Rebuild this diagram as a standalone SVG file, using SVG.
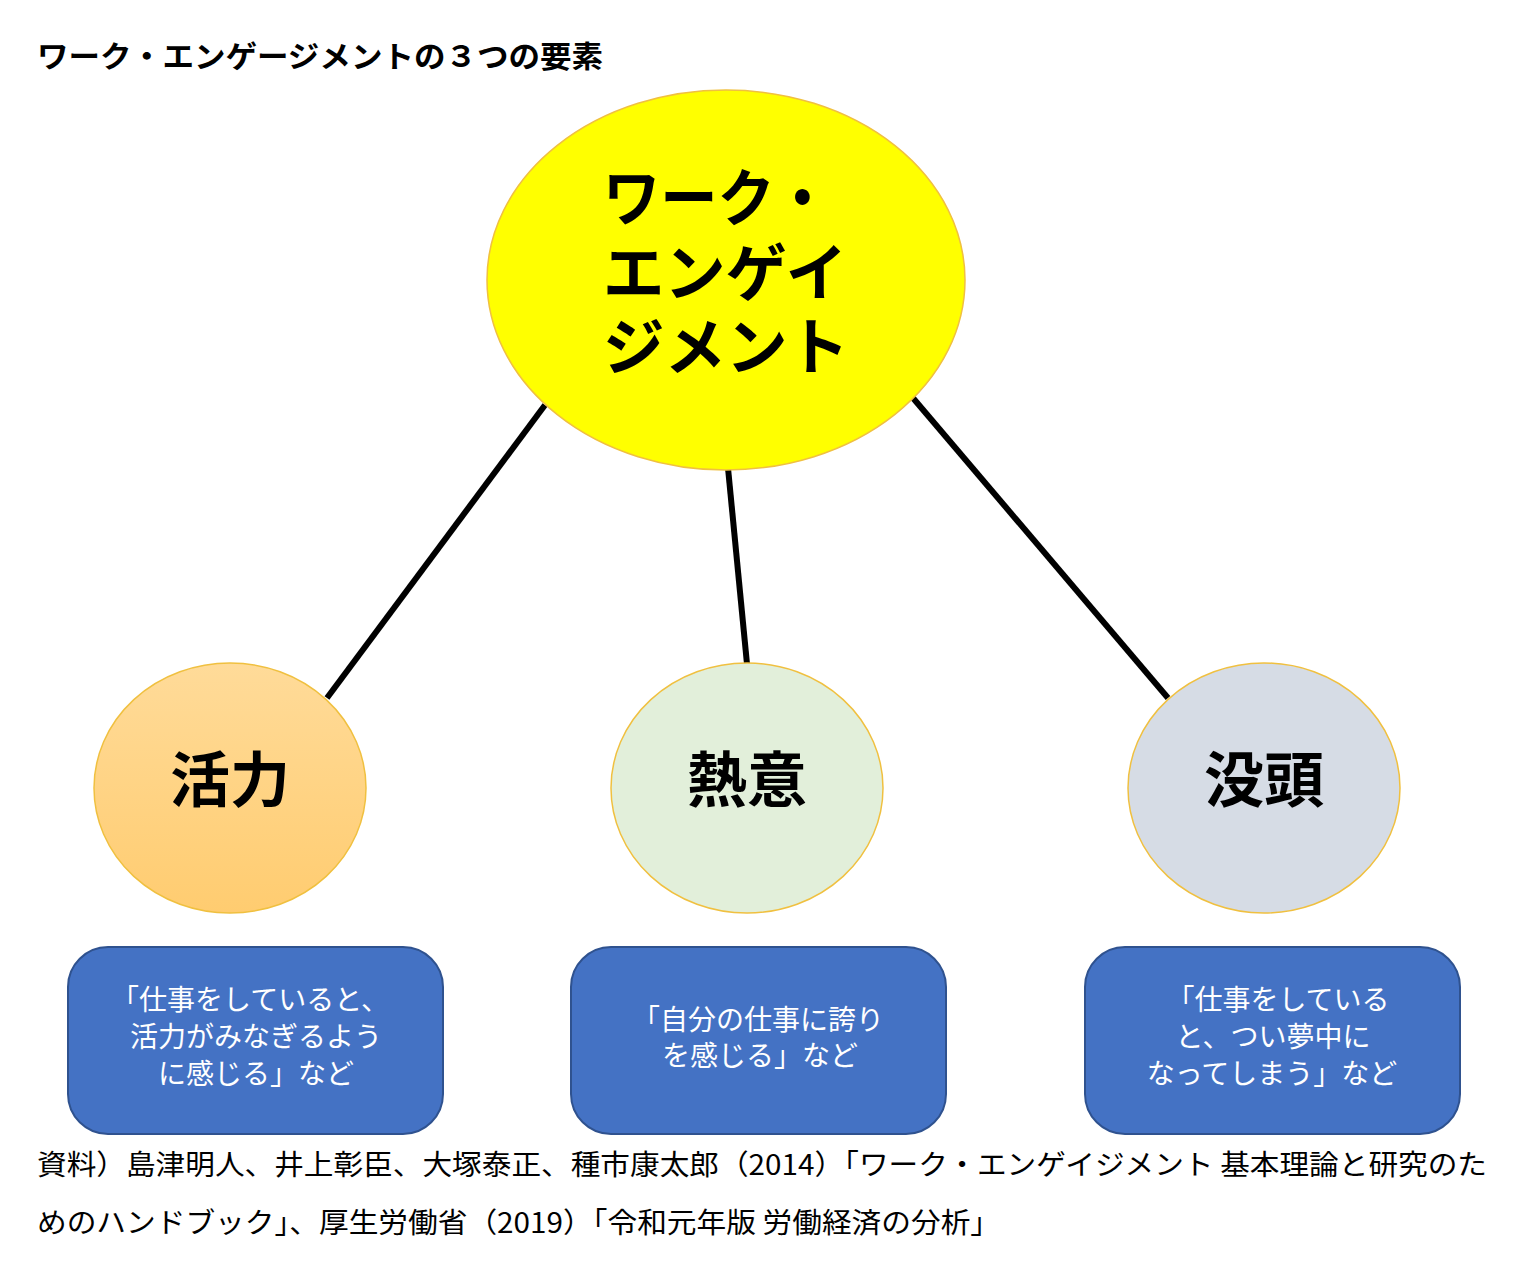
<svg xmlns="http://www.w3.org/2000/svg" width="1531" height="1279" viewBox="0 0 1531 1279">
<style>
.jp{font-family:"Noto Sans CJK JP","Noto Sans",sans-serif;}
.jl{font-family:"Liberation Sans","Noto Sans CJK JP",sans-serif;}
.title{font-size:30px;font-weight:700;fill:#000;}
.big{font-size:62px;font-weight:700;fill:#000;}
.lbl{font-size:60px;font-weight:700;fill:#000;text-anchor:middle;}
.box{fill:#4472C4;stroke:#2F528F;stroke-width:2;}
.btxt{font-size:28px;font-weight:400;fill:#fff;text-anchor:middle;}
.foot{font-size:28px;font-weight:400;fill:#000;}
.conn{stroke:#000;stroke-width:6;fill:none;}
.circ{stroke:#F0C040;stroke-width:1.5;}
</style>
<defs>
<linearGradient id="og" x1="0" y1="0" x2="0" y2="1">
<stop offset="0" stop-color="#FFDB99"/>
<stop offset="1" stop-color="#FFCC70"/>
</linearGradient>
</defs>
<rect width="1531" height="1279" fill="#fff"/>
<text class="jp title" x="37" y="67" textLength="566" lengthAdjust="spacingAndGlyphs">ワーク・エンゲージメントの３つの要素</text>
<g id="connectors">
<line class="conn" x1="545" y1="405" x2="327" y2="698"/>
<line class="conn" x1="728" y1="468" x2="747" y2="664"/>
<line class="conn" x1="913" y1="398" x2="1168" y2="698"/>
</g>
<g id="node-main">
<ellipse class="circ" cx="726" cy="280" rx="239" ry="190" fill="#FFFF00"/>
<text class="jl big"><tspan x="603" y="221" textLength="228" lengthAdjust="spacingAndGlyphs">ワーク・</tspan><tspan x="603" y="296" textLength="244" lengthAdjust="spacingAndGlyphs">エンゲイ</tspan><tspan x="603" y="370" textLength="246" lengthAdjust="spacingAndGlyphs">ジメント</tspan></text>
</g>
<g id="node-vigor">
<ellipse class="circ" cx="230" cy="788" rx="136" ry="125" fill="url(#og)"/>
<text class="jp lbl" x="230" y="802">活力</text>
</g>
<g id="node-dedication">
<ellipse class="circ" cx="747" cy="788" rx="136" ry="125" fill="#E2EFDA"/>
<text class="jp lbl" x="747" y="802">熱意</text>
</g>
<g id="node-absorption">
<ellipse class="circ" cx="1264" cy="788" rx="136" ry="125" fill="#D6DCE5"/>
<text class="jp lbl" x="1264" y="802">没頭</text>
</g>
<g id="box-vigor">
<rect class="box" x="68" y="947" width="375" height="187" rx="40"/>
<text class="jl btxt"><tspan x="250" y="1010">「仕事をしていると、</tspan><tspan x="256" y="1047">活力がみなぎるよう</tspan><tspan x="256" y="1084">に感じる」など</tspan></text>
</g>
<g id="box-dedication">
<rect class="box" x="571" y="947" width="375" height="187" rx="40"/>
<text class="jl btxt"><tspan x="758" y="1030">「自分の仕事に誇り</tspan><tspan x="760" y="1066">を感じる」など</tspan></text>
</g>
<g id="box-absorption">
<rect class="box" x="1085" y="947" width="375" height="187" rx="40"/>
<text class="jl btxt"><tspan x="1278" y="1010">「仕事をしている</tspan><tspan x="1273" y="1047">と、つい夢中に</tspan><tspan x="1272" y="1084">なってしまう」など</tspan></text>
</g>
<text class="jp foot" x="37" y="1175" textLength="1450" lengthAdjust="spacingAndGlyphs">資料）島津明人、井上彰臣、大塚泰正、種市康太郎（2014）「ワーク・エンゲイジメント 基本理論と研究のた</text>
<text class="jp foot" x="37" y="1233" textLength="963" lengthAdjust="spacingAndGlyphs">めのハンドブック」、厚生労働省（2019）「令和元年版 労働経済の分析」</text>
</svg>
